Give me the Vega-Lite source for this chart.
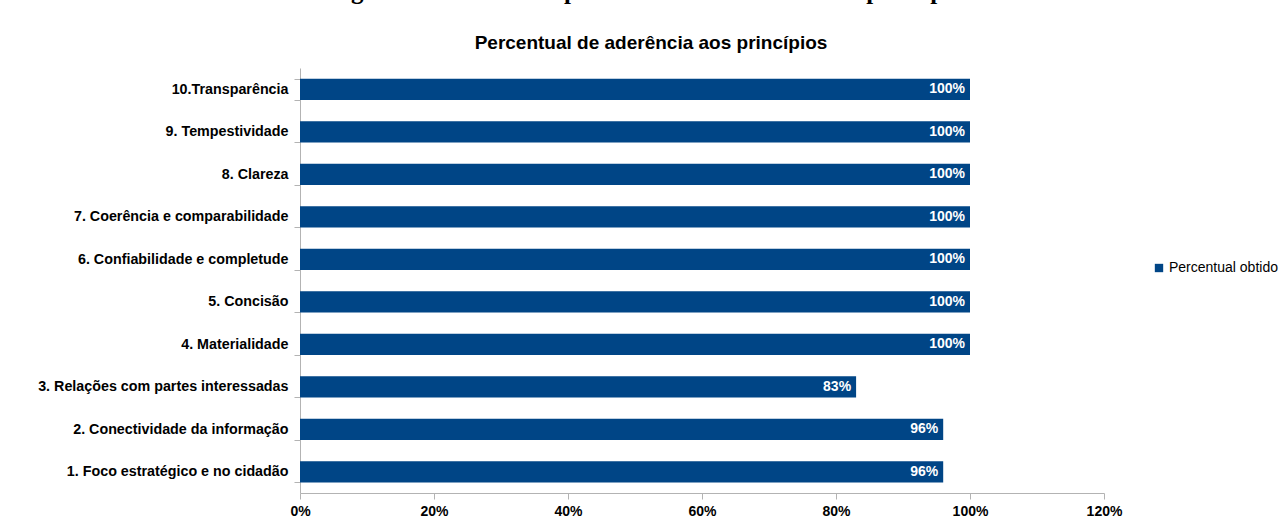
{
  "$schema": "https://vega.github.io/schema/vega-lite/v6.json",
  "width": 804,
  "height": 425,
  "autosize": {"type": "none"},
  "padding": {"left": 300, "top": 68, "right": 178, "bottom": 32},
  "background": "white",
  "title": {
    "text": "Figura 2 – Gráfico de percentual de aderência aos princípios",
    "subtitle": "Percentual de aderência aos princípios",
    "anchor": "middle",
    "frame": "group",
    "font": "Liberation Serif",
    "fontSize": 25,
    "fontWeight": "bold",
    "color": "black",
    "subtitleFont": "Liberation Sans",
    "subtitleFontSize": 19,
    "subtitleFontWeight": "bold",
    "subtitleColor": "black",
    "subtitlePadding": 30,
    "offset": 8,
    "dx": -51
  },
  "data": {
    "values": [
      {"principio": "10.Transparência", "valor": 1.0, "serie": "Percentual obtido"},
      {"principio": "9. Tempestividade", "valor": 1.0, "serie": "Percentual obtido"},
      {"principio": "8. Clareza", "valor": 1.0, "serie": "Percentual obtido"},
      {"principio": "7. Coerência e comparabilidade", "valor": 1.0, "serie": "Percentual obtido"},
      {"principio": "6. Confiabilidade e completude", "valor": 1.0, "serie": "Percentual obtido"},
      {"principio": "5. Concisão", "valor": 1.0, "serie": "Percentual obtido"},
      {"principio": "4. Materialidade", "valor": 1.0, "serie": "Percentual obtido"},
      {"principio": "3. Relações com partes interessadas", "valor": 0.83, "serie": "Percentual obtido"},
      {"principio": "2. Conectividade da informação", "valor": 0.96, "serie": "Percentual obtido"},
      {"principio": "1. Foco estratégico e no cidadão", "valor": 0.96, "serie": "Percentual obtido"}
    ]
  },
  "encoding": {
    "y": {
      "field": "principio",
      "type": "nominal",
      "sort": null,
      "scale": {"paddingInner": 0.5, "paddingOuter": 0.25},
      "axis": {
        "title": null,
        "labelFont": "Liberation Sans",
        "labelFontSize": 14.3,
        "labelFontWeight": "bold",
        "labelColor": "black",
        "labelPadding": 6,
        "tickBand": "extent",
        "tickSize": 6,
        "tickColor": "#b3b3b3",
        "domainColor": "#b3b3b3",
        "labelLimit": 300
      }
    },
    "x": {
      "field": "valor",
      "type": "quantitative",
      "scale": {"domain": [0, 1.2], "nice": false},
      "axis": {
        "title": null,
        "format": ".0%",
        "values": [0, 0.2, 0.4, 0.6, 0.8, 1.0, 1.2],
        "grid": false,
        "labelFlush": false,
        "labelFont": "Liberation Sans",
        "labelFontSize": 14,
        "labelFontWeight": "bold",
        "labelColor": "black",
        "labelPadding": 5,
        "tickSize": 6,
        "tickColor": "#b3b3b3",
        "domainColor": "#b3b3b3"
      }
    }
  },
  "layer": [
    {
      "mark": {"type": "bar"},
      "encoding": {
        "color": {
          "field": "serie",
          "type": "nominal",
          "scale": {"range": ["#004586"]},
          "legend": {
            "title": null,
            "orient": "none",
            "legendX": 852,
            "legendY": 193,
            "symbolType": "square",
            "symbolSize": 70,
            "symbolStrokeWidth": 0,
            "labelFont": "Liberation Sans",
            "labelFontSize": 14,
            "labelColor": "black",
            "labelOffset": 3
          }
        }
      }
    },
    {
      "mark": {
        "type": "text",
        "align": "right",
        "baseline": "middle",
        "dx": -5,
        "font": "Liberation Sans",
        "fontSize": 14,
        "fontWeight": "bold",
        "color": "white"
      },
      "encoding": {
        "text": {"field": "valor", "type": "quantitative", "format": ".0%"}
      }
    }
  ],
  "config": {
    "view": {"stroke": null}
  }
}
